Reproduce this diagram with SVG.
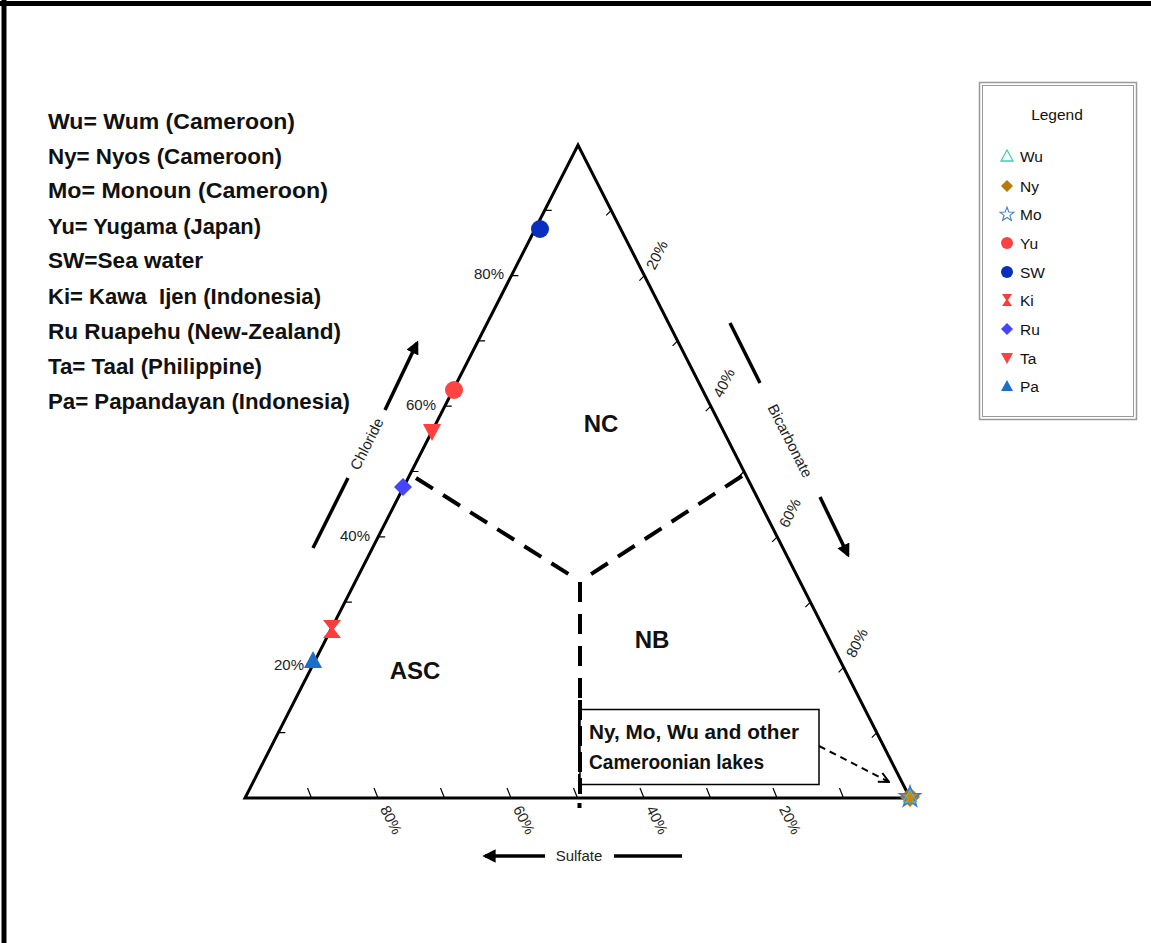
<svg xmlns="http://www.w3.org/2000/svg" width="1151" height="943" viewBox="0 0 1151 943">
<defs>
<style>
.ax{stroke:#000;stroke-width:3;fill:none}
.tk{stroke:#000;stroke-width:1.2;fill:none}
.dash{stroke:#000;stroke-width:4;stroke-dasharray:20 12;fill:none}
.lab{font-family:"Liberation Sans",Arial,sans-serif;font-size:15px;fill:#222}
.key{font-family:"Liberation Sans",Arial,sans-serif;font-size:22.5px;font-weight:bold;fill:#111}
.reg{font-family:"Liberation Sans",Arial,sans-serif;font-size:24px;font-weight:bold;fill:#111}
.ann{font-family:"Liberation Sans",Arial,sans-serif;font-size:20.5px;font-weight:bold;fill:#111}
.lg{font-family:"Liberation Sans",Arial,sans-serif;font-size:15.5px;fill:#111}
.arr{stroke:#000;stroke-width:3.5;fill:none}
</style>
<marker id="ah" viewBox="0 0 10 10" refX="8" refY="5" markerWidth="3.8" markerHeight="3.8" orient="auto" markerUnits="strokeWidth">
<path d="M0,0 L10,5 L0,10 Z" fill="#000"/>
</marker>
<marker id="oh" viewBox="0 0 12 12" refX="11" refY="6" markerWidth="12" markerHeight="12" orient="auto" markerUnits="userSpaceOnUse">
<path d="M1,1 L11,6 L1,11" fill="none" stroke="#000" stroke-width="2"/>
</marker>
</defs>
<rect width="1151" height="943" fill="#fff"/>
<g id="frame">
<line x1="0" y1="3.5" x2="1151" y2="3.5" stroke="#000" stroke-width="5"/>
<line x1="4" y1="0" x2="4" y2="943" stroke="#000" stroke-width="5"/>
</g>
<g id="key-text">
<text class="key" x="48" y="129" textLength="247" lengthAdjust="spacingAndGlyphs">Wu= Wum (Cameroon)</text>
<text class="key" x="48" y="164" textLength="234" lengthAdjust="spacingAndGlyphs">Ny= Nyos (Cameroon)</text>
<text class="key" x="48" y="198" textLength="280" lengthAdjust="spacingAndGlyphs">Mo= Monoun (Cameroon)</text>
<text class="key" x="48" y="234" textLength="213" lengthAdjust="spacingAndGlyphs">Yu= Yugama (Japan)</text>
<text class="key" x="48" y="268" textLength="155" lengthAdjust="spacingAndGlyphs">SW=Sea water</text>
<text class="key" x="48" y="304" textLength="273" lengthAdjust="spacingAndGlyphs" xml:space="preserve">Ki= Kawa  Ijen (Indonesia)</text>
<text class="key" x="48" y="339" textLength="293" lengthAdjust="spacingAndGlyphs">Ru Ruapehu (New-Zealand)</text>
<text class="key" x="48" y="374" textLength="214" lengthAdjust="spacingAndGlyphs">Ta= Taal (Philippine)</text>
<text class="key" x="48" y="409" textLength="302" lengthAdjust="spacingAndGlyphs">Pa= Papandayan (Indonesia)</text>
</g>
<g id="triangle">
<path class="ax" d="M245,798 L910,798 L578,145 Z" stroke-linejoin="miter"/>
</g>
<g id="ticks">
<path class="tk" d="M311.5,798 l-4,-10 M378,798 l-4,-10 M444.5,798 l-4,-10 M511,798 l-4,-10 M577.5,798 l-4,-10 M644,798 l-4,-10 M710.5,798 l-4,-10 M777,798 l-4,-10 M843.5,798 l-4,-10"/>
<path class="tk" d="M278.3,732.7 h7 M311.6,667.4 h7 M344.9,602.1 h7 M378.2,536.8 h7 M411.5,471.5 h7 M444.8,406.2 h7 M478.1,340.9 h7 M511.4,275.6 h7 M544.7,210.3 h7"/>
<path class="tk" d="M611.2,210.3 l-5,5 M644.4,275.6 l-5,5 M677.6,340.9 l-5,5 M710.8,406.2 l-5,5 M744,471.5 l-5,5 M777.2,536.8 l-5,5 M810.4,602.1 l-5,5 M843.6,667.4 l-5,5 M876.8,732.7 l-5,5"/>
</g>
<g id="axis-labels">
<text class="lab" x="489" y="279" text-anchor="middle">80%</text>
<text class="lab" x="421" y="410" text-anchor="middle">60%</text>
<text class="lab" x="355" y="541" text-anchor="middle">40%</text>
<text class="lab" x="289" y="670" text-anchor="middle">20%</text>
<text class="lab" text-anchor="middle" transform="translate(657,255) rotate(-63)" dy="5">20%</text>
<text class="lab" text-anchor="middle" transform="translate(724,383) rotate(-63)" dy="5">40%</text>
<text class="lab" text-anchor="middle" transform="translate(790,513) rotate(-63)" dy="5">60%</text>
<text class="lab" text-anchor="middle" transform="translate(857,643) rotate(-63)" dy="5">80%</text>
<text class="lab" text-anchor="middle" transform="translate(391,820) rotate(63)" dy="5">80%</text>
<text class="lab" text-anchor="middle" transform="translate(524,820) rotate(63)" dy="5">60%</text>
<text class="lab" text-anchor="middle" transform="translate(657,820) rotate(63)" dy="5">40%</text>
<text class="lab" text-anchor="middle" transform="translate(790,820) rotate(63)" dy="5">20%</text>
</g>
<g id="axis-titles">
<line class="arr" x1="313" y1="548" x2="348" y2="478"/>
<text class="lab" text-anchor="middle" transform="translate(367,444) rotate(-63)" dy="5" font-size="16">Chloride</text>
<line class="arr" x1="385" y1="410" x2="417" y2="343" marker-end="url(#ah)"/>
<line class="arr" x1="730" y1="323" x2="760" y2="383"/>
<text class="lab" text-anchor="middle" transform="translate(790,441) rotate(63)" dy="5" font-size="16">Bicarbonate</text>
<line class="arr" x1="820" y1="497" x2="848" y2="555" marker-end="url(#ah)"/>
<line class="arr" x1="545" y1="856" x2="485" y2="856" marker-end="url(#ah)"/>
<text class="lab" x="579" y="861" text-anchor="middle" font-size="16">Sulfate</text>
<line class="arr" x1="614" y1="856" x2="682" y2="856"/>
</g>
<g id="connectors">
<line class="dash" x1="416" y1="478" x2="578" y2="580"/>
<line class="dash" x1="742" y1="476" x2="582" y2="580"/>
<line class="dash" x1="580" y1="582" x2="580" y2="798" stroke-dasharray="32 14"/>
<rect x="577.5" y="803" width="4" height="5" fill="#000"/>
<line x1="819" y1="746" x2="889" y2="782" stroke="#000" stroke-width="2" stroke-dasharray="7 5" marker-end="url(#oh)"/>
</g>
<g id="regions">
<text class="reg" x="601" y="432" text-anchor="middle">NC</text>
<text class="reg" x="652" y="648" text-anchor="middle">NB</text>
<text class="reg" x="415" y="679" text-anchor="middle">ASC</text>
</g>
<g id="annotation">
<rect x="580" y="709.5" width="239" height="75" fill="#fff" stroke="#000" stroke-width="1.5"/>
<line x1="580" y1="700" x2="580" y2="790" stroke="#000" stroke-width="4" stroke-dasharray="20 6"/>
<text class="ann" x="589" y="739" textLength="210" lengthAdjust="spacingAndGlyphs">Ny, Mo, Wu and other</text>
<text class="ann" x="589" y="769" textLength="175" lengthAdjust="spacingAndGlyphs">Cameroonian lakes</text>
</g>
<g id="points">
<circle cx="540" cy="229" r="9" fill="#0a2fbf"/>
<circle cx="454" cy="390" r="9" fill="#ff4444"/>
<path d="M423,424 L441,424 L432,441 Z" fill="#ff4040"/>
<path d="M403,478 L412,487 L403,496 L394,487 Z" fill="#4545ff"/>
<path d="M323,620 L341,620 L334,629 L341,638 L323,638 L330,629 Z" fill="#ff3c3c"/>
<path d="M313,651 L322,668 L304,668 Z" fill="#1a6fc8"/>
<path d="M910,787 L920,797 L910,807 L900,797 Z" fill="#c07a10"/>
<path d="M910,786 L912.6,793.4 L920.5,793.6 L914.2,798.4 L916.5,806 L910,801.5 L903.5,806 L905.8,798.4 L899.5,793.6 L907.4,793.4 Z" fill="#c8881a" stroke="#3a7ae0" stroke-width="1.5"/>
<path d="M910,790 L917,802 L903,802 Z" fill="none" stroke="#40d0b0" stroke-width="1"/>
</g>
<g id="legend">
<rect x="979.5" y="82.5" width="157" height="337" fill="#fff" stroke="#999" stroke-width="1.5"/>
<rect x="982.5" y="85.5" width="151" height="331" fill="none" stroke="#999" stroke-width="1"/>
<text class="lg" x="1057" y="120" text-anchor="middle" font-size="16.5">Legend</text>
<path d="M1007,150 L1013,161 L1001,161 Z" fill="none" stroke="#40d0b0" stroke-width="1.3"/>
<text class="lg" x="1020" y="162">Wu</text>
<path d="M1007,180 L1013,186 L1007,192 L1001,186 Z" fill="#b8780a"/>
<text class="lg" x="1020" y="192">Ny</text>
<path d="M1007,207 L1008.8,212 L1014,212.2 L1009.9,215.4 L1011.4,220.4 L1007,217.5 L1002.6,220.4 L1004.1,215.4 L1000,212.2 L1005.2,212 Z" fill="none" stroke="#4a7fd0" stroke-width="1.1"/>
<text class="lg" x="1020" y="220">Mo</text>
<circle cx="1007" cy="243" r="6" fill="#ff4040"/>
<text class="lg" x="1020" y="249">Yu</text>
<circle cx="1007" cy="272" r="6" fill="#0a2fbf"/>
<text class="lg" x="1020" y="278">SW</text>
<path d="M1002,294 L1012,294 L1008,300 L1012,306 L1002,306 L1006,300 Z" fill="#ff3c3c"/>
<text class="lg" x="1020" y="306">Ki</text>
<path d="M1007,323 L1013,329 L1007,335 L1001,329 Z" fill="#4545ff"/>
<text class="lg" x="1020" y="335">Ru</text>
<path d="M1001,353 L1013,353 L1007,364 Z" fill="#ff4040"/>
<text class="lg" x="1020" y="364">Ta</text>
<path d="M1007,380 L1013,391 L1001,391 Z" fill="#1a6fc8"/>
<text class="lg" x="1020" y="392">Pa</text>
</g>
</svg>
